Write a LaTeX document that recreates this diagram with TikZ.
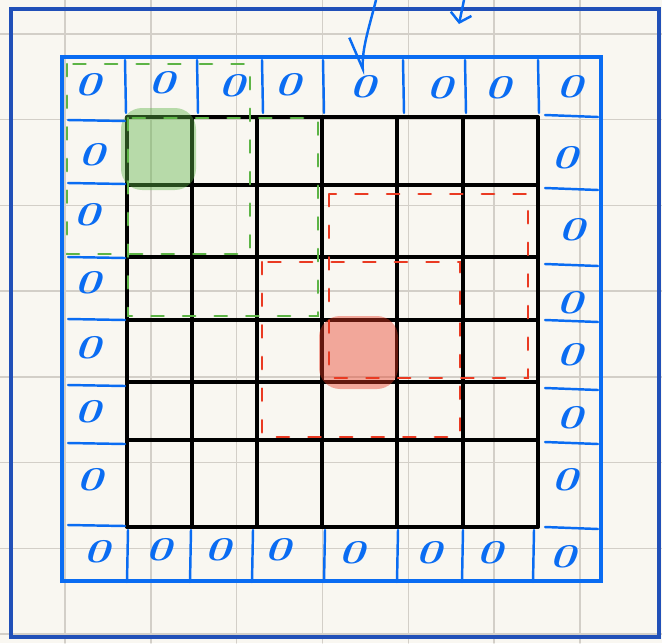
\documentclass[tikz,border=0pt]{standalone}
\usepackage{graphicx}
\usetikzlibrary{arrows.meta}
\definecolor{penblue}{HTML}{0A6CF2}
\definecolor{frameblue}{HTML}{2150B8}
\definecolor{pengreen}{HTML}{5DB446}
\definecolor{penred}{HTML}{EA3A22}
\definecolor{paper}{HTML}{F9F7F1}
\definecolor{ruling}{HTML}{D3CFC8}
\newcommand{\padzero}{\scalebox{1.35}[1]{0}}

\begin{document}
\begin{tikzpicture}[x=0.02cm,y=-0.02cm,line cap=round,
  zero/.style={text=penblue,font=\fontsize{19}{19}\selectfont\bfseries\itshape,inner sep=0pt},
  padsep/.style={penblue,line width=1.4pt},
  cell/.style={black,line width=2pt},
  ruleline/.style={ruling,line width=0.8pt},
  greenwin/.style={pengreen,line width=1.4pt,dash pattern=on 7pt off 11pt},
  redwin/.style={penred,line width=1.4pt,dash pattern=on 7pt off 11pt},
  penarr/.style={penblue,line width=1.4pt}
]

  % ---- Paper and ruling ----------------------------------------
  \fill[paper] (0,0) rectangle (662,643);
  \useasboundingbox (0,0) rectangle (662,643);
  \foreach \i in {0,...,6}
    \draw[ruleline] ({65+85.8*\i},0) -- ({65+85.8*\i},643);
  \foreach \i in {0,...,7}
    \draw[ruleline] (0,{34+85.7*\i}) -- (662,{34+85.7*\i});

  % Outer frame and padded border
  \draw[frameblue,line width=2pt] (11,9) rectangle (659,637);
  \draw[penblue,line width=1.8pt] (62,57) rectangle (601,581);

  % ---- 6x6 input grid ------------------------------------------
  \foreach \x in {127,192,257,322,397,463,538}
    \draw[cell] (\x,117) -- (\x,527);
  \foreach \y in {117,185,257,320,382,440,527}
    \draw[cell] (127,\y) -- (538,\y);

  % Highlighted cells
  \fill[pengreen,opacity=.42,rounded corners=12] (121,108) rectangle (196,190);
  \fill[penred,opacity=.42,rounded corners=12] (319,316) rectangle (398,389);

  % ---- Zero padding --------------------------------------------
  \foreach \x/\y/\n in {88/85/t1,162/83/t2,232/86/t3,288/85/t4,
                        363/87/t5,440/88/t6,498/88/t7,570/87/t8}
    \node[zero] (\n) at (\x,\y) {\padzero};
  \foreach \x/\y/\n in {92/155/l1,87/215/l2,88/283/l3,
                        88/348/l4,88/412/l5,90/480/l6}
    \node[zero] (\n) at (\x,\y) {\padzero};
  \foreach \x/\y/\n in {565/158/r1,572/230/r2,570/303/r3,
                        570/355/r4,570/418/r5,565/480/r6}
    \node[zero] (\n) at (\x,\y) {\padzero};
  \foreach \x/\y/\n in {97/552/b1,159/550/b2,218/550/b3,278/550/b4,
                        352/553/b5,429/553/b6,490/553/b7,563/557/b8}
    \node[zero] (\n) at (\x,\y) {\padzero};

  % Separators between the padding cells
  \foreach \x in {125,197,262,323,403,465,538}
    \draw[padsep] (\x,60) -- (\x+1,113);
  \foreach \x in {128,191,253,325,398,463,534}
    \draw[padsep] (\x,530) -- (\x-1,582);
  \foreach \y in {120,183,257,319,385,443,525}
    \draw[padsep] (68,\y) -- (125,\y+1);
  \foreach \y in {115,188,264,320,388,442,527}
    \draw[padsep] (545,\y) -- (598,\y+2);

  % ---- Receptive windows ---------------------------------------
  \draw[greenwin] (67,64) rectangle (250,254);
  \draw[greenwin] (128,118) rectangle (318,316);
  \draw[redwin] (329,194) rectangle (528,378);
  \draw[redwin] (262,262) rectangle (460,437);

  % Pen arrows coming in from above
  \coordinate (pa) at (376,0);
  \coordinate (pb) at (464,0);
  \coordinate (pc) at (459,24);
  \draw[penarr,-{Straight Barb[right,length=18pt,width=14pt]}]
    (pa) .. controls (369,28) and (362,48) .. (t5.north);
  \draw[penarr,-{Straight Barb[length=5pt,width=12pt]}] (pb) -- (pc);

\end{tikzpicture}
\end{document}
